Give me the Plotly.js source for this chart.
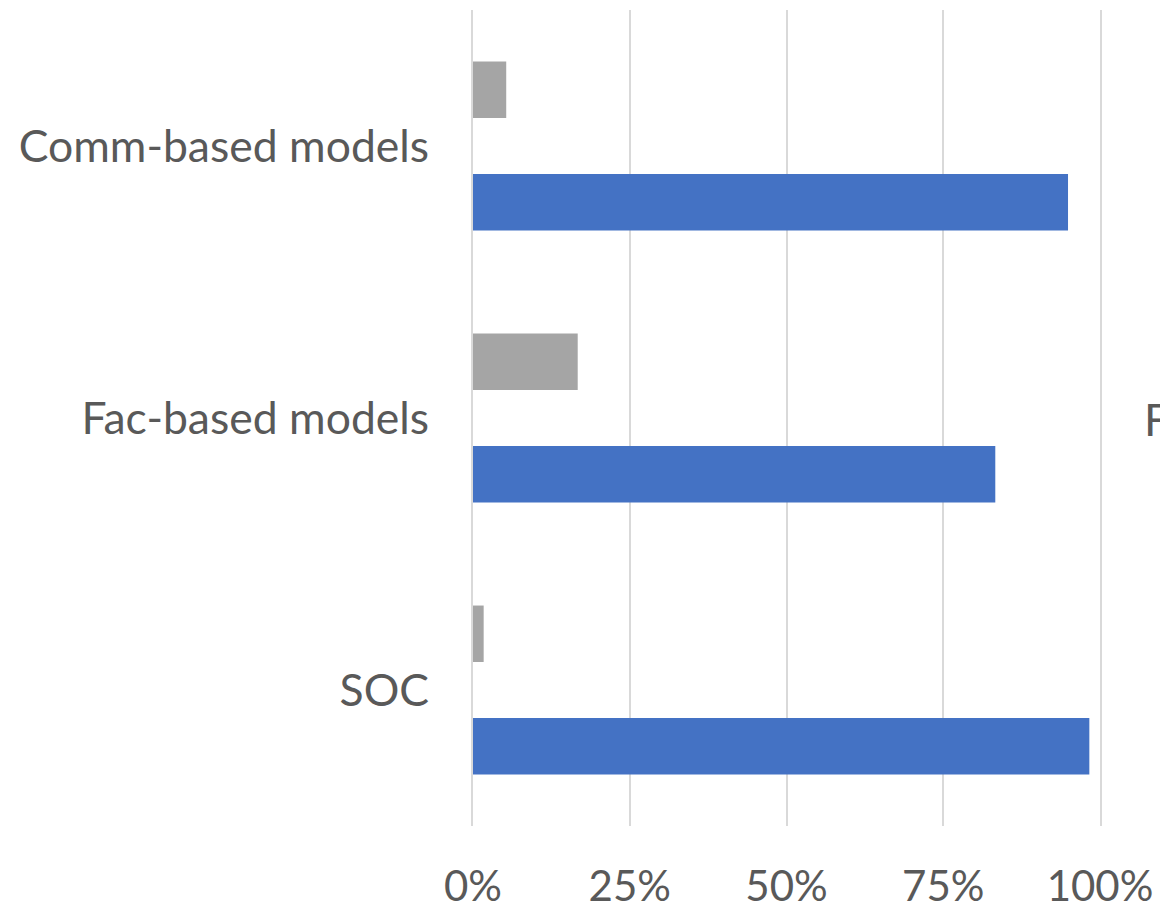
<!DOCTYPE html>
<html>
<head>
<meta charset="utf-8">
<script src="https://cdn.plot.ly/plotly-3.0.1.min.js"></script>
<style>
  html, body { margin: 0; padding: 0; background: #ffffff; }
  #chart { width: 1160px; height: 905px; }
</style>
</head>
<body>
<div id="chart"></div>
<script>
// Categories, bottom to top
const categories = ['SOC', 'Fac-based models', 'Comm-based models'];
// Share per category (fractions of 1)
const blueShare = [0.983, 0.833, 0.949];
const grayShare = [0.017, 0.167, 0.053];
const tickValues = [0, 0.25, 0.5, 0.75, 1];
const tickLabels = ['0%', '25%', '50%', '75%', '100%'];

const fontFamily = 'Lato, "Open Sans", sans-serif';
const textColor = '#595959';
const gridColor = '#D9D9D9';

const traces = [
  {
    type: 'bar', orientation: 'h',
    y: categories, x: blueShare,
    marker: { color: '#4472C4' },
    hoverinfo: 'skip', showlegend: false
  },
  {
    type: 'bar', orientation: 'h',
    y: categories, x: grayShare,
    marker: { color: '#A5A5A5' },
    hoverinfo: 'skip', showlegend: false
  }
];

const layout = {
  width: 1160, height: 905,
  margin: { l: 473, r: 60, t: 10, b: 79, pad: 0 },
  paper_bgcolor: '#ffffff', plot_bgcolor: '#ffffff',
  barmode: 'group',
  bargap: 0.173,
  bargroupgap: 0.498,
  showlegend: false,
  font: { family: fontFamily, size: 42, color: textColor },
  xaxis: {
    range: [0, 1],
    tickvals: tickValues, ticktext: tickLabels,
    showgrid: true, gridcolor: gridColor, gridwidth: 2,
    zeroline: false, showline: false,
    ticks: '', ticklabelstandoff: 32,
    tickfont: { family: fontFamily, size: 42, color: textColor },
    fixedrange: true
  },
  yaxis: {
    type: 'category',
    categoryorder: 'array', categoryarray: categories,
    showgrid: false, zeroline: false,
    // vertical lines at 0% and 100%
    showline: true, mirror: true, linecolor: gridColor, linewidth: 2,
    ticks: '', ticklabelstandoff: 33,
    tickfont: { family: fontFamily, size: 44.5, color: textColor },
    fixedrange: true
  },
  annotations: [
    {
      xref: 'paper', yref: 'paper', x: 1.067, y: 0.5,
      xanchor: 'left', yanchor: 'middle',
      text: 'F', showarrow: false,
      font: { family: fontFamily, size: 44.5, color: textColor }
    }
  ]
};

Plotly.newPlot('chart', traces, layout, { displayModeBar: false, staticPlot: true });
</script>
</body>
</html>
